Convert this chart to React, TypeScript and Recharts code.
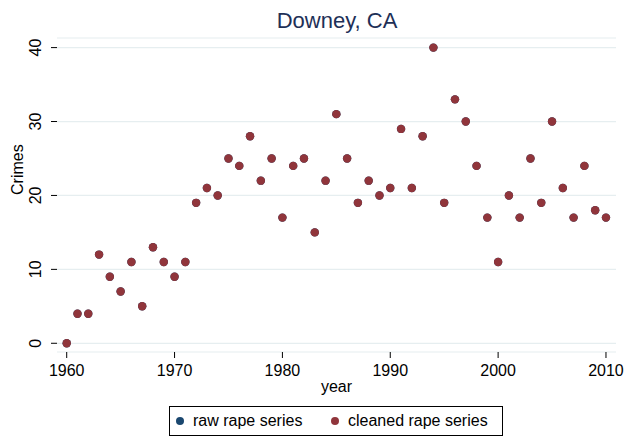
import React from 'react';
import { ScatterChart, Scatter, XAxis, YAxis, CartesianGrid, Legend } from 'recharts';

// years and values
const years = [
  1960, 1961, 1962, 1963, 1964, 1965, 1966, 1967, 1968, 1969,
  1970, 1971, 1972, 1973, 1974, 1975, 1976, 1977, 1978, 1979,
  1980, 1981, 1982, 1983, 1984, 1985, 1986, 1987, 1988, 1989,
  1990, 1991, 1992, 1993, 1994, 1995, 1996, 1997, 1998, 1999,
  2000, 2001, 2002, 2003, 2004, 2005, 2006, 2007, 2008, 2009, 2010,
];
const rawRape = [
  0, 4, 4, 12, 9, 7, 11, 5, 13, 11,
  9, 11, 19, 21, 20, 25, 24, 28, 22, 25,
  17, 24, 25, 15, 22, 31, 25, 19, 22, 20,
  21, 29, 21, 28, 40, 19, 33, 30, 24, 17,
  11, 20, 17, 25, 19, 30, 21, 17, 24, 18, 17,
];
const cleanedRape = [
  0, 4, 4, 12, 9, 7, 11, 5, 13, 11,
  9, 11, 19, 21, 20, 25, 24, 28, 22, 25,
  17, 24, 25, 15, 22, 31, 25, 19, 22, 20,
  21, 29, 21, 28, 40, 19, 33, 30, 24, 17,
  11, 20, 17, 25, 19, 30, 21, 17, 24, 18, 17,
];
const xTicks = [1960, 1970, 1980, 1990, 2000, 2010];
const yTicks = [0, 10, 20, 30, 40];

const rawData = years.map((year, i) => ({ year, value: rawRape[i] }));
const cleanedData = years.map((year, i) => ({ year, value: cleanedRape[i] }));

const FONT = '"Liberation Sans", Arial, Helvetica, sans-serif';
const NAVY = '#1A476F';
const CRANBERRY = '#90353B';

const dot = (color: string) => (props: any) => (
  <circle cx={props.cx} cy={props.cy} r={4.2} fill={color} />
);

const YTick = (props: any) => {
  const { x, y, payload } = props;
  return (
    <text
      x={x - 8}
      y={y}
      transform={`rotate(-90, ${x - 8}, ${y})`}
      textAnchor="middle"
      fontSize={16}
      fontFamily={FONT}
      fill="#000"
    >
      {payload.value}
    </text>
  );
};

const LegendBox = () => (
  <div
    style={{
      boxSizing: 'border-box',
      width: 334,
      height: 30,
      border: '1px solid #000',
      position: 'relative',
      fontFamily: FONT,
      fontSize: 16,
      color: '#000',
      background: '#fff',
    }}
  >
    <span style={{ position: 'absolute', left: 6, top: 10, width: 8, height: 8, borderRadius: 4, background: NAVY }} />
    <span style={{ position: 'absolute', left: 23, top: 5, lineHeight: '18px' }}>raw rape series</span>
    <span style={{ position: 'absolute', left: 161, top: 10, width: 8, height: 8, borderRadius: 4, background: CRANBERRY }} />
    <span style={{ position: 'absolute', left: 178, top: 5, lineHeight: '18px' }}>cleaned rape series</span>
  </div>
);

export default function App() {
  return (
    <div style={{ position: 'absolute', left: 0, top: 0, width: 637, height: 440, background: '#fff' }}>
      <ScatterChart width={637} height={440} margin={{ top: 38, right: 21, bottom: 4, left: 0 }}>
        <text x={337} y={28} textAnchor="middle" fontSize={22} fontFamily={FONT} fill="#1E3057">
          Downey, CA
        </text>
        <CartesianGrid horizontal vertical={false} stroke="#E6EEF0" strokeWidth={1.2} />
        <XAxis
          type="number"
          dataKey="year"
          domain={[1959.1, 2010.93]}
          ticks={xTicks}
          allowDataOverflow
          axisLine={false}
          tickLine={{ stroke: '#000' }}
          tickSize={6}
          tickMargin={7}
          height={54}
          tick={{ fontSize: 16, fontFamily: FONT, fill: '#000' }}
          label={{ value: 'year', position: 'insideBottom', offset: 14, fontSize: 16, fontFamily: FONT, fill: '#000' }}
        />
        <YAxis
          type="number"
          dataKey="value"
          domain={[-1.18, 41.3]}
          ticks={yTicks}
          allowDataOverflow
          axisLine={false}
          tickLine={{ stroke: '#000' }}
          tickSize={6}
          width={57}
          tick={<YTick />}
          label={{ value: 'Crimes', angle: -90, position: 'insideLeft', offset: 17, fontSize: 16, fontFamily: FONT, fill: '#000' }}
        />
        <Legend
          verticalAlign="bottom"
          content={<LegendBox />}
          wrapperStyle={{ left: 169, width: 334, height: 30 }}
        />
        <Scatter name="raw rape series" data={rawData} fill={NAVY} shape={dot(NAVY)} isAnimationActive={false} />
        <Scatter name="cleaned rape series" data={cleanedData} fill={CRANBERRY} shape={dot(CRANBERRY)} isAnimationActive={false} />
      </ScatterChart>
    </div>
  );
}
